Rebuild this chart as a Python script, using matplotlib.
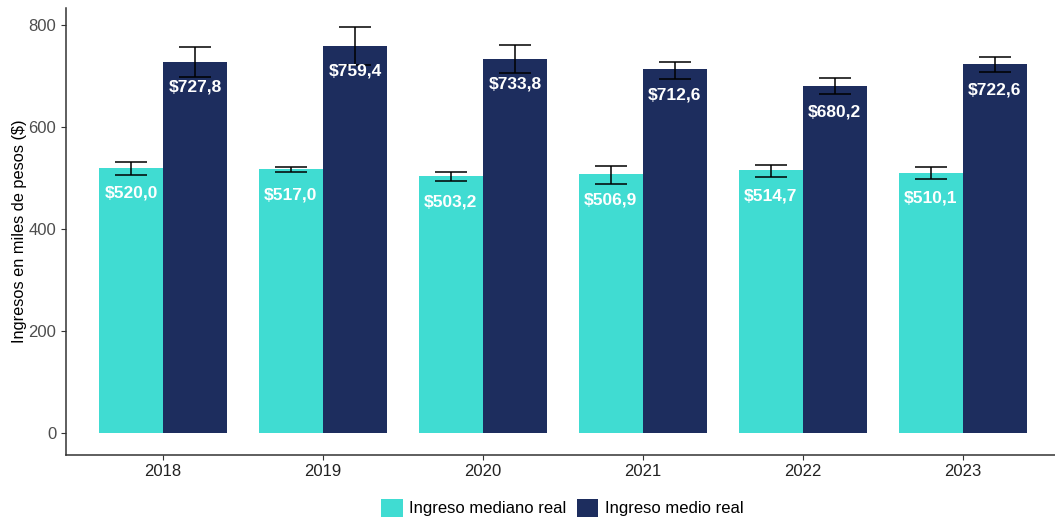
import numpy as np
import matplotlib.pyplot as plt

# Datos
anios = ["2018", "2019", "2020", "2021", "2022", "2023"]
mediano = [520.0, 517.0, 503.2, 506.9, 514.7, 510.1]
mediano_lo = [506, 511, 494, 489, 502, 497]
mediano_hi = [532, 521, 511, 524, 526, 522]
medio = [727.8, 759.4, 733.8, 712.6, 680.2, 722.6]
medio_lo = [697, 722, 706, 694, 664, 707]
medio_hi = [757, 796, 760, 728, 696, 737]

col_mediano = "#40DCD2"
col_medio = "#1D2D5E"

plt.rcParams["font.family"] = ["Liberation Sans", "DejaVu Sans"]

fig = plt.figure(figsize=(10.55, 5.18), dpi=100)
ax = fig.add_axes([66 / 1055, 63.5 / 518, 989 / 1055, 447 / 518])

x = np.arange(len(anios))
w = 0.4

b1 = ax.bar(x - w / 2, mediano, w, color=col_mediano, label="Ingreso mediano real")
b2 = ax.bar(x + w / 2, medio, w, color=col_medio, label="Ingreso medio real")

for xs, vals, lo, hi in [(x - w / 2, mediano, mediano_lo, mediano_hi),
                         (x + w / 2, medio, medio_lo, medio_hi)]:
    vals = np.array(vals)
    err = [vals - np.array(lo), np.array(hi) - vals]
    ax.errorbar(xs, vals, yerr=err, fmt="none", ecolor="black",
                elinewidth=1.1, capsize=11.5, capthick=1.1, zorder=3)

for xs, vals in [(x - w / 2, mediano), (x + w / 2, medio)]:
    for xi, v in zip(xs, vals):
        etiqueta = "$" + f"{v:.1f}".replace(".", ",")
        ax.annotate(etiqueta, (xi, v), xytext=(0, -18.5), textcoords="offset points",
                    ha="center", va="center", color="white", fontsize=12.5,
                    fontweight="bold", zorder=4)

ax.set_xlim(-0.606, 5.577)
ax.set_ylim(-42, 834)
ax.set_yticks([0, 200, 400, 600, 800])
ax.set_xticks(x)
ax.set_xticklabels(anios)
ax.tick_params(axis="both", colors="#333333", labelcolor="#4D4D4D", labelsize=12,
               length=3.5, width=0.8)
ax.tick_params(axis="x", labelcolor="#222222")
ax.set_ylabel("Ingresos en miles de pesos ($)", fontsize=11.8, color="black", labelpad=1)

for lado in ["top", "right"]:
    ax.spines[lado].set_visible(False)
for lado in ["left", "bottom"]:
    ax.spines[lado].set_color("#333333")
    ax.spines[lado].set_linewidth(1.1)

fig.legend(handles=[b1, b2], loc="center", bbox_to_anchor=(0.533, 0.02),
           ncol=2, frameon=False, fontsize=12, handlelength=1.3,
           handleheight=1.3, handletextpad=0.4, columnspacing=0.6)

fig.savefig("out.png", dpi=100)
